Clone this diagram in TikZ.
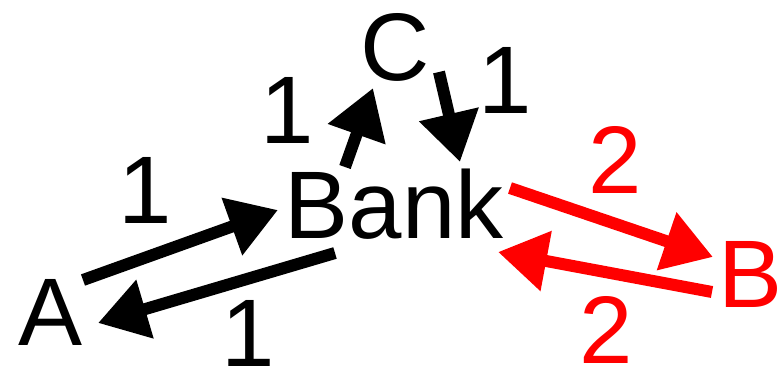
\documentclass[tikz,border=0pt]{standalone}
\usepackage{fontspec}
\setmainfont{Liberation Sans}
\usetikzlibrary{arrows.meta}

\begin{document}
\begin{tikzpicture}[
  x=1pt, y=-1pt,
  party/.style  = {inner sep=0pt, anchor=base, font=\fontsize{96pt}{96pt}\selectfont},
  amount/.style = {inner sep=0pt, anchor=base, font=\fontsize{96pt}{96pt}\selectfont},
  flow/.style   = {line width=12pt, -{Triangle[length=49pt,width=58pt]}},
  debt/.style   = {red},   % the B leg is the one that is owed twice
]
  \useasboundingbox (0,0) rectangle (780,368);

  \node[party] (bank) at (394,238) {Bank};
  \node[party] (A) at (51,345) {A};
  \node[party] (C) at (395,80) {C};
  \node[party,debt] (B) at (751,307) {B};

  % A <-> Bank
  \draw[flow] ([shift={(32,-65)}]A.base) -- ([shift={(-116,-28)}]bank.base);
  \draw[flow] ([shift={(-59,15)}]bank.base) -- ([shift={(47,-22)}]A.base);
  \node[amount] (ab) at (145,223) {1};
  \node[amount] (ba) at (248,366) {1};

  % Bank <-> C
  \draw[flow] ([shift={(-49,-71)}]bank.base) -- ([shift={(-22,8)}]C.base);
  \draw[flow] ([shift={(44,-8)}]C.base) -- ([shift={(66,-76)}]bank.base);
  \node[amount] (bc) at (287,143) {1};
  \node[amount] (cb) at (505,113) {1};

  % Bank <-> B
  \draw[flow,debt] ([shift={(116,-50)}]bank.base) -- ([shift={(-38,-50)}]B.base);
  \draw[flow,debt] ([shift={(-39,-15)}]B.base) -- ([shift={(104,14)}]bank.base);
  \node[amount,debt] (bb) at (615,193) {2};
  \node[amount,debt] (bbk) at (606,363) {2};
\end{tikzpicture}
\end{document}
